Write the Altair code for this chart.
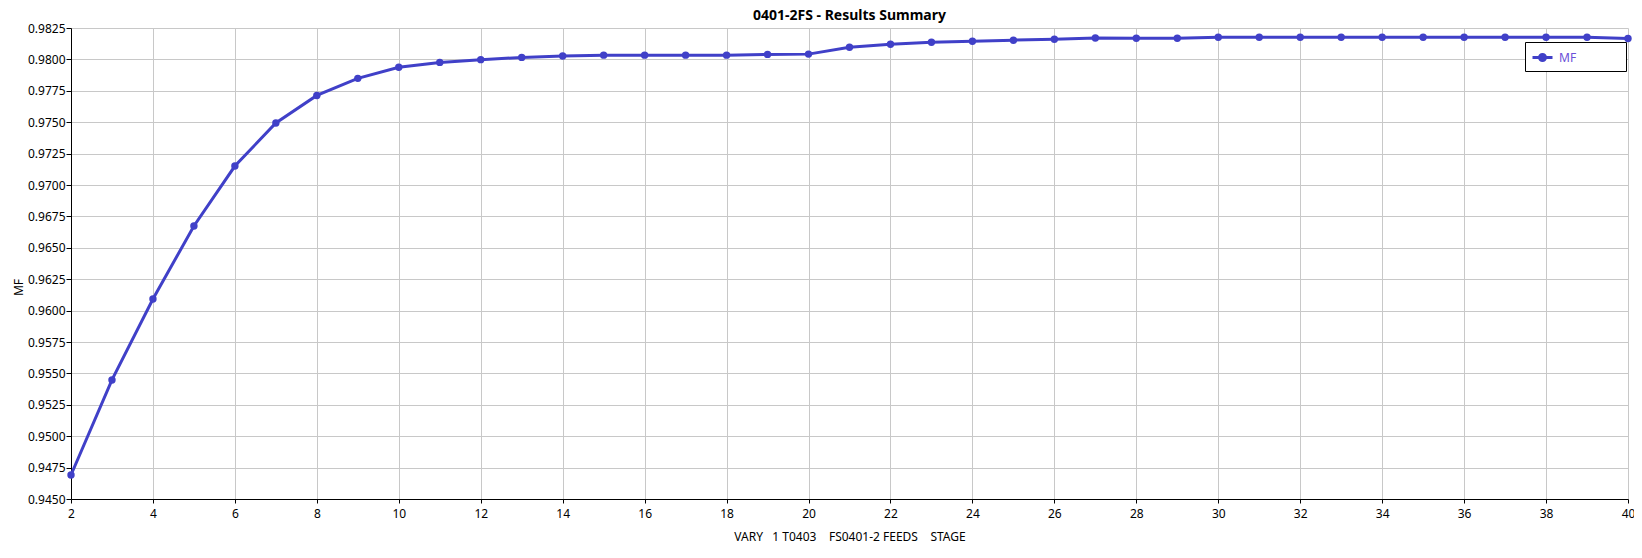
import altair as alt
import pandas as pd

stages = list(range(2, 41))
mf = [0.94691, 0.95448, 0.96092, 0.96674, 0.97151, 0.97494, 0.97713, 0.97849,
      0.97938, 0.97976, 0.97998, 0.98016, 0.98027, 0.98034, 0.98034, 0.98034,
      0.98034, 0.98040, 0.98042, 0.98097, 0.98121, 0.98137, 0.98145, 0.98153,
      0.98161, 0.98170, 0.98169, 0.98169, 0.98176, 0.98176, 0.98176, 0.98176,
      0.98176, 0.98176, 0.98176, 0.98176, 0.98176, 0.98176, 0.98167]
series = ["MF"] * len(stages)
x_ticks = list(range(2, 41, 2))
y_ticks = [round(0.945 + 0.0025 * i, 4) for i in range(16)]

df = pd.DataFrame({"stage": stages, "MF": mf, "series": series})

FONT = "Noto Sans"
LINE = "#4040c8"
NB = "\u00a0"
BLANK = "\u2800"
xtitle = f"VARY{NB*3}1 T0403{NB*4}FS0401-2 FEEDS{NB*4}STAGE"

xenc = alt.X("stage:Q", scale=alt.Scale(domain=[2, 40], nice=False, zero=False),
             axis=alt.Axis(values=x_ticks, title=xtitle, format="d",
                           titleY=37, titleBaseline="middle", labelPadding=5,
                           tickSize=4, labelFlush=False, titleFontWeight="normal"))
yenc = alt.Y("MF:Q", scale=alt.Scale(domain=[0.945, 0.9825], nice=False, zero=False),
             axis=alt.Axis(values=y_ticks, format=".4f", title="MF",
                           titleX=-53, titleY=259, titleAngle=270,
                           titleAlign="center", titleBaseline="middle",
                           labelPadding=1, tickSize=5, titleFontWeight="normal"))

sym = "M-1,0H1M-0.3,0A0.3,0.3 0 1,1 0.3,0A0.3,0.3 0 1,1 -0.3,0Z"
color = alt.Color("series:N", scale=alt.Scale(domain=["MF"], range=[LINE]),
                  legend=alt.Legend(title=None, orient="none", legendX=1454, legendY=14,
                                    strokeColor="black", padding=4, cornerRadius=0,
                                    fillColor="white",
                                    symbolType=sym, symbolSize=400,
                                    symbolStrokeWidth=3, symbolFillColor=LINE,
                                    symbolStrokeColor=LINE, symbolOffset=2,
                                    labelOffset=5, labelColor="#6a50d8",
                                    labelFontSize=12, labelFont=FONT,
                                    labelExpr="datum.label + '" + BLANK * 5 + "'"))

line = alt.Chart(df).mark_line(strokeWidth=3).encode(x=xenc, y=yenc, color=color)
pts = alt.Chart(df).mark_point(filled=True, size=55, opacity=1).encode(x=xenc, y=yenc, color=color)

chart = (line + pts).properties(
    width=1557, height=471,
    title=alt.TitleParams("0401-2FS - Results Summary", fontSize=14, fontWeight="bold",
                          font=FONT, anchor="middle", offset=8, dy=9, color="black"),
    autosize=alt.AutoSizeParams(type="none"),
    padding={"left": 63, "top": 20, "right": 6, "bottom": 50},
).configure(background="white").configure_view(strokeWidth=0).configure_axis(
    gridColor="#c8c8c8", gridWidth=1, domainColor="black", tickColor="black",
    labelColor="black", titleColor="black", labelFont=FONT, titleFont=FONT,
    labelFontSize=12, titleFontSize=12, titleFontWeight="normal"
)

chart.save("out.html", embed_options={"renderer": "svg", "actions": False})
